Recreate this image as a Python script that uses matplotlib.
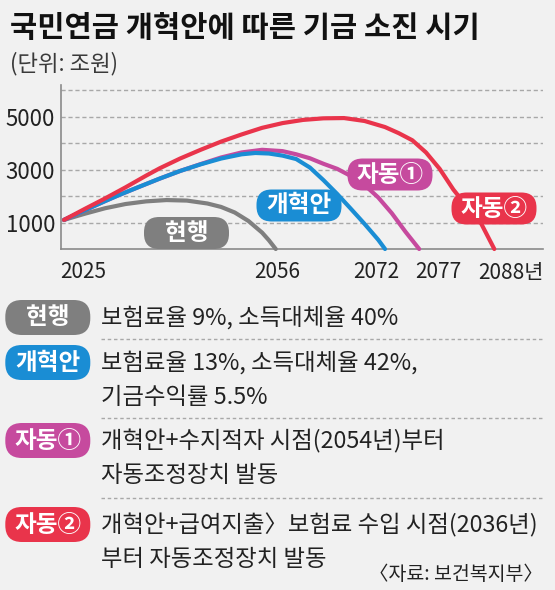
import matplotlib
matplotlib.use('Agg')
import matplotlib.pyplot as plt
from matplotlib.patches import FancyBboxPatch

plt.rcParams['font.family'] = ['Noto Sans CJK KR', 'DejaVu Sans']

# 기금 적립금 (조원), 그림에서 읽은 값
cur_years = [2025, 2028, 2031, 2034, 2037, 2040, 2043, 2046, 2048, 2050, 2052, 2054, 2055, 2056]
cur_vals = [1100, 1330, 1540, 1700, 1800, 1850, 1830, 1720, 1590, 1380, 1060, 620, 330, 0]

reform_years = [2025, 2028, 2031, 2033, 2036, 2039, 2042, 2045, 2048, 2051, 2053, 2055,
                2057, 2059, 2061, 2063, 2065, 2067, 2069, 2071, 2072]
reform_vals = [1100, 1460, 1810, 2035, 2350, 2660, 2950, 3200, 3420, 3580, 3630, 3610,
               3530, 3400, 3080, 2600, 2080, 1520, 950, 350, 0]

auto1_years = [2025, 2028, 2031, 2033, 2036, 2039, 2042, 2045, 2048, 2051, 2054, 2057,
               2059, 2061, 2063, 2065, 2067, 2069, 2071, 2073, 2075, 2077]
auto1_vals = [1100, 1460, 1810, 2035, 2350, 2660, 2950, 3210, 3460, 3650, 3750, 3700,
              3580, 3430, 3220, 3030, 2760, 2420, 1950, 1350, 650, 0]

auto2_years = [2025, 2028, 2031, 2034, 2037, 2039, 2042, 2045, 2048, 2051, 2054, 2057,
               2060, 2063, 2066, 2069, 2072, 2074, 2076, 2078, 2080, 2082, 2084, 2086, 2088]
auto2_vals = [1100, 1510, 1910, 2330, 2770, 3050, 3420, 3750, 4060, 4330, 4580, 4760,
              4880, 4940, 4950, 4840, 4610, 4380, 4110, 3650, 3030, 2250, 1600, 1000, 0]

end_years = [2025, 2056, 2072, 2077, 2088]
end_labels = ['2025', '2056', '2072', '2077', '2088년']
y_ticks = [1000, 2000, 3000, 4000, 5000, 6000]
y_labels = ['1000', '', '3000', '', '5000', '']

names = ['현행', '개혁안', '자동①', '자동②']
notes = [
    ['보험료율 9%, 소득대체율 40%'],
    ['보험료율 13%, 소득대체율 42%,', '기금수익률 5.5%'],
    ['개혁안+수지적자 시점(2054년)부터', '자동조정장치 발동'],
    ['개혁안+급여지출〉보험료 수입 시점(2036년)', '부터 자동조정장치 발동'],
]

BG = '#f1f1f1'
GRAY = '#7f7f7f'
BLUE = '#1a8dd4'
PINK = '#c64a9e'
RED = '#e9344b'
colors = [GRAY, BLUE, PINK, RED]
INK = '#222222'

W, H = 555, 590
fig = plt.figure(figsize=(W / 100, H / 100), dpi=100, facecolor=BG)
ax = fig.add_axes([61 / W, (H - 249) / H, 482 / W, 164 / H])
ax.set_facecolor(BG)

series = [(cur_years, cur_vals), (auto1_years, auto1_vals),
          (reform_years, reform_vals), (auto2_years, auto2_vals)]
for (xs, ys), c, z in zip(series, [GRAY, PINK, BLUE, RED], [3, 4, 5, 6]):
    ax.plot(xs, ys, color=c, lw=3, solid_capstyle='round', solid_joinstyle='round',
            clip_on=False, zorder=z)

ax.set_xlim(2024.56, 2095.13)
ax.set_ylim(0, 6200)
ax.set_yticks(y_ticks)
ax.set_yticklabels(y_labels, fontsize=16, color=INK)
ax.tick_params(axis='y', length=0, pad=4.3)
ax.set_xticks([])
ax.grid(axis='y', color='#a8a8a8', lw=1, ls=(0, (3, 2)))
ax.set_axisbelow(True)
for s in ['top', 'right']:
    ax.spines[s].set_visible(False)
for s in ['left', 'bottom']:
    ax.spines[s].set_color('#8a8a8a')
    ax.spines[s].set_linewidth(1.2)

# 연도 라벨 (겹치지 않게 조금씩 옮김)
label_dx = [19, 1.5, -9, 19.5, 16.5]
for yr, lab, dx in zip(end_years, end_labels, label_dx):
    ax.annotate(lab, xy=(yr, 0), xycoords=('data', 'axes fraction'),
                xytext=(dx, -23.5), textcoords='offset pixels',
                ha='center', va='center', fontsize=15, color=INK)

# 픽셀 좌표 오버레이
ov = fig.add_axes([0, 0, 1, 1])
ov.set_xlim(0, W)
ov.set_ylim(H, 0)
ov.axis('off')
ov.patch.set_alpha(0)


def pill(cx, cy, w, h, color, text, size=17):
    box = FancyBboxPatch((cx - w / 2, cy - h / 2), w, h,
                         boxstyle='round,pad=0,rounding_size=%.1f' % (h / 2 * 0.95),
                         fc=color, ec='none', zorder=10)
    ov.add_patch(box)
    ov.text(cx, cy, text, ha='center', va='center', fontsize=size,
            fontweight='bold', color='white', zorder=11)


ov.text(10, 28, '국민연금 개혁안에 따른 기금 소진 시기', ha='left', va='center',
        fontsize=21.3, fontweight='bold', color='#111111')
ov.text(10, 63.5, '(단위: 조원)', ha='left', va='center', fontsize=16, color='#3a3a3a')

# 그래프 안 라벨
chart_pills = [(186.5, 233), (299, 205.5), (390, 174.5), (494, 208.5)]
for (cx, cy), nm, c in zip(chart_pills, names, colors):
    pill(cx, cy, 85, 32, c, nm)

# 아래 설명
pill_y = [317.5, 362.5, 440.5, 524.5]
line_gap = 35
for nm, c, py, lines in zip(names, colors, pill_y, notes):
    pill(47.8, py, 85, 35, c, nm)
    for i, t in enumerate(lines):
        ov.text(101, py + 0.5 + i * line_gap, t, ha='left', va='center',
                fontsize=16.8, color=INK)

for sy in [339, 417.7, 498]:
    ov.plot([101, 543], [sy, sy], color='#a8a8a8', lw=1, ls=(0, (2.5, 2)))

ov.text(543, 575, '〈자료: 보건복지부〉', ha='right', va='center', fontsize=14, color=INK)

fig.savefig('out.png', dpi=100, facecolor=BG)
